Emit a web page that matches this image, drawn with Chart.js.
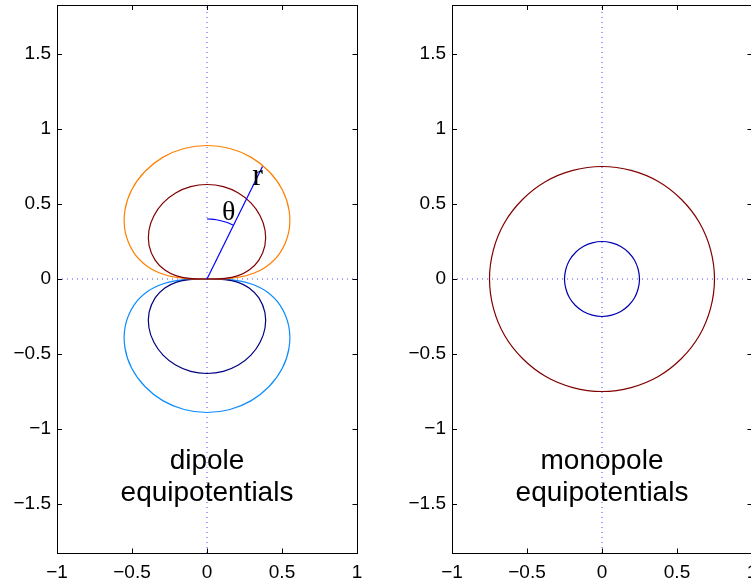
<!DOCTYPE html>
<html><head><meta charset="utf-8">
<script src="https://cdn.jsdelivr.net/npm/chart.js@4/dist/chart.umd.min.js"></script>
<style>
html,body{margin:0;padding:0;background:#fff;overflow:hidden;width:751px;height:584px;position:relative}
.wrap{position:absolute;top:0;width:380px;height:584px}
#w1{left:0}
#w2{left:395px}
canvas{display:block}
</style></head><body>
<div class="wrap" id="w1"><canvas id="c1" width="380" height="584"></canvas></div>
<div class="wrap" id="w2"><canvas id="c2" width="380" height="584"></canvas></div>
<script>
// ---- axes ----
const xRange = [-1, 1];
const yRange = [-1.827, 1.827];
const xTickValues = [-1, -0.5, 0, 0.5, 1];
const xTickLabels = ['\u22121', '\u22120.5', '0', '0.5', '1'];
const yTickValues = [-1.5, -1, -0.5, 0, 0.5, 1, 1.5];
const yTickLabels = ['\u22121.5', '\u22121', '\u22120.5', '0', '0.5', '1', '1.5'];

// ---- dipole equipotentials (right half, origin -> apex) ----
const dipoleOuterUpX = [0, 0.166, 0.286, 0.397, 0.489, 0.545, 0.547, 0.501, 0.414, 0.295, 0.153, 0];
const dipoleOuterUpY = [0, 0.006, 0.030, 0.084, 0.178, 0.315, 0.459, 0.597, 0.717, 0.811, 0.870, 0.890];
const dipoleInnerUpX = [0, 0.118, 0.203, 0.281, 0.346, 0.386, 0.387, 0.354, 0.293, 0.209, 0.109, 0];
const dipoleInnerUpY = [0, 0.004, 0.021, 0.060, 0.126, 0.223, 0.325, 0.422, 0.508, 0.574, 0.616, 0.630];
const dipoleOuterDownX = [0, 0.166, 0.286, 0.397, 0.489, 0.545, 0.547, 0.501, 0.414, 0.295, 0.153, 0];
const dipoleOuterDownY = [0, -0.006, -0.030, -0.084, -0.178, -0.315, -0.459, -0.597, -0.717, -0.811, -0.870, -0.890];
const dipoleInnerDownX = [0, 0.118, 0.203, 0.281, 0.346, 0.386, 0.387, 0.354, 0.293, 0.209, 0.109, 0];
const dipoleInnerDownY = [0, -0.004, -0.021, -0.060, -0.126, -0.223, -0.325, -0.422, -0.508, -0.574, -0.616, -0.630];

// radius vector and theta arc
const radiusX = [0, 0.37];
const radiusY = [0, 0.75];
const arcX = [0, 0.063, 0.124, 0.177];
const arcY = [0.4, 0.395, 0.380, 0.359];

// ---- monopole equipotentials ----
const monoOuterX = [0.75, 0.724, 0.65, 0.53, 0.375, 0.194, 0, -0.194, -0.375, -0.53, -0.65, -0.724, -0.75, -0.724, -0.65, -0.53, -0.375, -0.194, 0, 0.194, 0.375, 0.53, 0.65, 0.724];
const monoOuterY = [0, 0.194, 0.375, 0.53, 0.65, 0.724, 0.75, 0.724, 0.65, 0.53, 0.375, 0.194, 0, -0.194, -0.375, -0.53, -0.65, -0.724, -0.75, -0.724, -0.65, -0.53, -0.375, -0.194];
const monoInnerX = [0.25, 0.241, 0.217, 0.177, 0.125, 0.065, 0, -0.065, -0.125, -0.177, -0.217, -0.241, -0.25, -0.241, -0.217, -0.177, -0.125, -0.065, 0, 0.065, 0.125, 0.177, 0.217, 0.241];
const monoInnerY = [0, 0.065, 0.125, 0.177, 0.217, 0.241, 0.25, 0.241, 0.217, 0.177, 0.125, 0.065, 0, -0.065, -0.125, -0.177, -0.217, -0.241, -0.25, -0.241, -0.217, -0.177, -0.125, -0.065];

// ---- annotations ----
const dipoleText = ['dipole', 'equipotentials'];
const monopoleText = ['monopole', 'equipotentials'];
const textBaseY = [-1.27, -1.48];
const thetaLabelPos = [0.145, 0.442];
const rLabelPos = [0.337, 0.684];

const COLORS = {
  orange: '#ff7f00', darkred: '#800000', lightblue: '#0a8cff', navy: '#000080',
  blue: '#0000ff', monoInner: '#0000b0', axisDots: '#4a4aff'
};
const SANS = "'Liberation Sans', Arial, Helvetica, sans-serif";
const SERIF = "'Liberation Serif', 'Times New Roman', serif";
const LW = 1.2;

function pts(xs, ys) { return xs.map((x, i) => ({x, y: ys[i]})); }
function mirrorLoop(xs, ys) {
  const p = pts(xs, ys);
  for (let i = xs.length - 2; i >= 1; i--) p.push({x: -xs[i], y: ys[i]});
  return p;
}
function closedCurve(p, color, tension) {
  const n = p.length;
  const data = [p[n - 1], ...p, p[0], p[1]];
  const last = data.length - 2;
  return {
    data, borderColor: color, borderWidth: LW, tension: tension || 0.4, showLine: true,
    pointRadius: 0, pointHoverRadius: 0, fill: false,
    segment: { borderColor: c => (c.p0DataIndex === 0 || c.p0DataIndex === last) ? 'rgba(0,0,0,0)' : undefined }
  };
}
function openCurve(xs, ys, color, extra) {
  return Object.assign({
    data: pts(xs, ys), borderColor: color, borderWidth: LW, tension: 0.4, showLine: true,
    pointRadius: 0, pointHoverRadius: 0, fill: false
  }, extra || {});
}
function axisDots() {
  return [
    openCurve([0, 0], yRange, COLORS.axisDots, {borderDash: [1, 4], tension: 0, borderWidth: 1}),
    openCurve(xRange, [0, 0], COLORS.axisDots, {borderDash: [1, 4], tension: 0, borderWidth: 1})
  ];
}

const framePlugin = {
  id: 'frame',
  afterDraw(chart) {
    const {ctx, chartArea: a, scales: {x, y}} = chart;
    ctx.save();
    ctx.strokeStyle = '#000';
    ctx.lineWidth = 1;
    ctx.strokeRect(a.left + 0.5, a.top + 0.5, a.right - a.left, a.bottom - a.top);
    ctx.beginPath();
    const L = 5;
    xTickValues.forEach(v => {
      const px = Math.round(x.getPixelForValue(v)) + 0.5;
      ctx.moveTo(px, a.top); ctx.lineTo(px, a.top + L);
      ctx.moveTo(px, a.bottom + 0.5); ctx.lineTo(px, a.bottom + 0.5 - L);
    });
    yTickValues.forEach(v => {
      const py = Math.round(y.getPixelForValue(v)) + 0.5;
      ctx.moveTo(a.left, py); ctx.lineTo(a.left + L, py);
      ctx.moveTo(a.right + 0.5, py); ctx.lineTo(a.right + 0.5 - L, py);
    });
    ctx.stroke();
    ctx.restore();
  }
};
const notesPlugin = {
  id: 'notes',
  afterDatasetsDraw(chart, args, opts) {
    const {ctx, scales: {x, y}} = chart;
    ctx.save();
    (opts.items || []).forEach(it => {
      ctx.font = it.font;
      ctx.fillStyle = '#000';
      ctx.textAlign = 'center';
      ctx.textBaseline = it.baseline || 'alphabetic';
      ctx.fillText(it.text, x.getPixelForValue(it.x), y.getPixelForValue(it.y));
    });
    ctx.restore();
  }
};

function makeOptions(items) {
  const tickFont = {family: SANS, size: 19};
  return {
    responsive: false, animation: false, events: [],
    layout: {padding: {top: 5, right: 23, bottom: 0, left: 0}, autoPadding: false},
    plugins: {legend: {display: false}, tooltip: {enabled: false}, notes: {items}},
    scales: {
      x: {
        type: 'linear', min: xRange[0], max: xRange[1],
        afterBuildTicks: s => { s.ticks = xTickValues.map(v => ({value: v})); },
        afterFit: s => { s.height = 31; s.paddingLeft = 0; s.paddingRight = 0; },
        grid: {display: false, drawTicks: false}, border: {display: false},
        ticks: {autoSkip: false, maxRotation: 0, padding: 8, color: '#000', font: tickFont,
                callback: (v, i) => xTickLabels[i]}
      },
      y: {
        type: 'linear', min: yRange[0], max: yRange[1],
        afterBuildTicks: s => { s.ticks = yTickValues.map(v => ({value: v})); },
        afterFit: s => { s.width = 57; s.paddingTop = 0; s.paddingBottom = 0; },
        grid: {display: false, drawTicks: false}, border: {display: false},
        ticks: {autoSkip: false, padding: 6, color: '#000', font: tickFont,
                callback: (v, i) => yTickLabels[i]}
      }
    }
  };
}

const textFont = '28px ' + SANS;

new Chart(document.getElementById('c1'), {
  type: 'scatter',
  data: {datasets: [
    openCurve(radiusX, radiusY, COLORS.blue, {tension: 0}),
    openCurve(arcX, arcY, COLORS.blue),
    closedCurve(mirrorLoop(dipoleInnerUpX, dipoleInnerUpY), COLORS.darkred),
    closedCurve(mirrorLoop(dipoleOuterUpX, dipoleOuterUpY), COLORS.orange),
    closedCurve(mirrorLoop(dipoleInnerDownX, dipoleInnerDownY), COLORS.navy),
    closedCurve(mirrorLoop(dipoleOuterDownX, dipoleOuterDownY), COLORS.lightblue),
    ...axisDots()
  ]},
  options: makeOptions([
    {text: dipoleText[0], x: 0, y: textBaseY[0], font: textFont},
    {text: dipoleText[1], x: 0, y: textBaseY[1], font: textFont},
    {text: '\u03b8', x: thetaLabelPos[0], y: thetaLabelPos[1], font: '28px ' + SERIF, baseline: 'middle'},
    {text: 'r', x: rLabelPos[0], y: rLabelPos[1], font: '32px ' + SERIF, baseline: 'middle'}
  ]),
  plugins: [framePlugin, notesPlugin]
});

new Chart(document.getElementById('c2'), {
  type: 'scatter',
  data: {datasets: [
    closedCurve(pts(monoInnerX, monoInnerY), COLORS.monoInner, 0.34),
    closedCurve(pts(monoOuterX, monoOuterY), COLORS.darkred, 0.34),
    ...axisDots()
  ]},
  options: makeOptions([
    {text: monopoleText[0], x: 0, y: textBaseY[0], font: textFont},
    {text: monopoleText[1], x: 0, y: textBaseY[1], font: textFont}
  ]),
  plugins: [framePlugin, notesPlugin]
});
</script>
</body></html>
